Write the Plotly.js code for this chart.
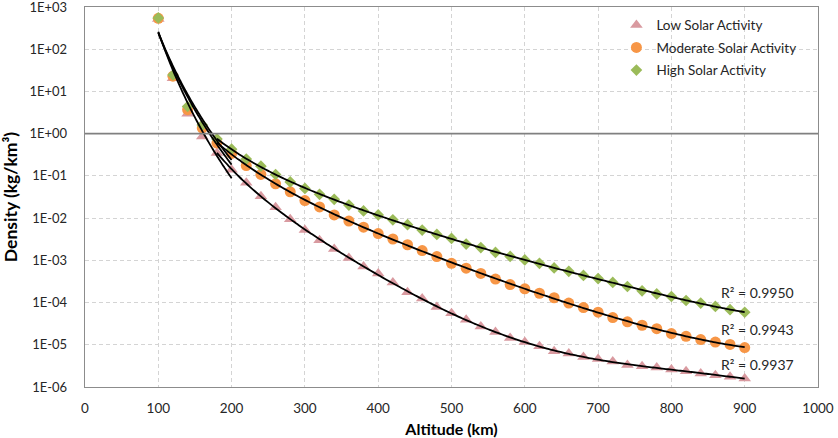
<!DOCTYPE html>
<html>
<head>
<meta charset="utf-8">
<script src="https://cdn.plot.ly/plotly-3.0.1.min.js"></script>
<style>
  html, body { margin: 0; padding: 0; background: #ffffff; }
  #chart { width: 838px; height: 438px; }
</style>
</head>
<body>
<div id="chart"></div>
<script>
// Atmospheric density versus altitude for three levels of solar activity
const altitude = [100, 120, 140, 160, 180, 200, 220, 240, 260, 280, 300, 320, 340, 360, 380,
                  400, 420, 440, 460, 480, 500, 520, 540, 560, 580, 600, 620, 640, 660, 680,
                  700, 720, 740, 760, 780, 800, 820, 840, 860, 880, 900];

const densityLow = [520, 20.5, 2.95, 0.86, 0.35, 0.14, 0.069, 0.033, 0.018, 0.0094,
                    0.0052, 0.0030, 0.00186, 0.00114, 0.00071, 0.00049, 0.00030, 0.000176, 0.000125, 7.8e-5,
                    5.6e-5, 3.9e-5, 2.7e-5, 2.0e-5, 1.45e-5, 1.17e-5, 9.2e-6, 7.0e-6, 6.2e-6, 5.1e-6,
                    4.6e-6, 4.0e-6, 3.3e-6, 3.1e-6, 2.9e-6, 2.6e-6, 2.37e-6, 2.1e-6, 1.9e-6, 1.74e-6, 1.6e-6];

const densityModerate = [540, 23, 3.7, 1.36, 0.60, 0.34, 0.176, 0.108, 0.065, 0.042,
                         0.026, 0.0184, 0.0119, 0.0085, 0.0061, 0.0043, 0.0032, 0.00234, 0.0017, 0.00123,
                         0.00085, 0.00065, 0.00049, 0.00036, 0.000267, 0.000211, 0.000166, 0.00013, 9.7e-5, 7.6e-5,
                         5.9e-5, 4.4e-5, 3.5e-5, 2.9e-5, 2.4e-5, 1.84e-5, 1.59e-5, 1.33e-5, 1.16e-5, 1.02e-5, 8.6e-6];

const densityHigh = [550, 24.5, 4.4, 1.6, 0.75, 0.43, 0.25, 0.17, 0.108, 0.072,
                     0.0506, 0.0366, 0.0278, 0.0204, 0.0148, 0.0119, 0.0091, 0.0070, 0.0052, 0.0041,
                     0.0033, 0.00243, 0.0020, 0.00154, 0.00124, 0.00102, 0.00085, 0.00066, 0.00055, 0.00044,
                     0.00037, 0.00030, 0.00024, 0.00019, 0.00016, 0.000139, 0.000112, 9.7e-5, 8.1e-5, 6.8e-5, 5.9e-5];

const seriesNames = ['Low Solar Activity', 'Moderate Solar Activity', 'High Solar Activity'];
const rSquared = ['0.9937', '0.9943', '0.9950'];

const yTickValues = [1e3, 1e2, 1e1, 1e0, 1e-1, 1e-2, 1e-3, 1e-4, 1e-5, 1e-6];
const yTickLabels = ['1E+03', '1E+02', '1E+01', '1E+00', '1E-01', '1E-02', '1E-03', '1E-04', '1E-05', '1E-06'];
const xTickValues = [0, 100, 200, 300, 400, 500, 600, 700, 800, 900, 1000];

const FONT = 'Lato, "Open Sans", sans-serif';
const TEXT = '#262626';

// ---- least-squares helpers for the trendlines ----
function solve(A, b) {
  const n = b.length;
  const M = A.map((row, i) => row.concat([b[i]]));
  for (let c = 0; c < n; c++) {
    let p = c;
    for (let r = c + 1; r < n; r++) if (Math.abs(M[r][c]) > Math.abs(M[p][c])) p = r;
    [M[c], M[p]] = [M[p], M[c]];
    for (let r = 0; r < n; r++) {
      if (r === c) continue;
      const f = M[r][c] / M[c][c];
      for (let k = c; k <= n; k++) M[r][k] -= f * M[c][k];
    }
  }
  return M.map((row, i) => row[n] / row[i]);
}

function polyfit(xs, ys, deg) {
  const m = deg + 1;
  const A = Array.from({length: m}, () => new Array(m).fill(0));
  const b = new Array(m).fill(0);
  xs.forEach((x, i) => {
    const pw = [];
    for (let k = 0; k < 2 * m; k++) pw.push(Math.pow(x, k));
    for (let r = 0; r < m; r++) {
      b[r] += pw[r] * ys[i];
      for (let c = 0; c < m; c++) A[r][c] += pw[r + c];
    }
  });
  const coef = solve(A, b);
  return x => coef.reduce((s, c, k) => s + c * Math.pow(x, k), 0);
}

// Upper-altitude fit: polynomial in log10(density), drawn from 180 km to 900 km
function upperFit(values) {
  const xs = [], ys = [];
  altitude.forEach((a, i) => { if (a >= 180) { xs.push((a - 540) / 360); ys.push(Math.log10(values[i])); } });
  const f = polyfit(xs, ys, 6);
  const lx = [], ly = [];
  for (let a = 180; a <= 900; a += 5) { lx.push(a); ly.push(Math.pow(10, f((a - 540) / 360))); }
  return {x: lx, y: ly};
}

// Lower-altitude fit: power law over 100 km to 200 km
function lowerFit(values) {
  const xs = [], ys = [];
  altitude.forEach((a, i) => { if (a <= 200) { xs.push(Math.log10(a)); ys.push(Math.log10(values[i])); } });
  const f = polyfit(xs, ys, 1);
  const lx = [], ly = [];
  for (let a = 100; a <= 200; a += 2) { lx.push(a); ly.push(Math.pow(10, f(Math.log10(a)))); }
  return {x: lx, y: ly};
}

const series = [
  {name: seriesNames[0], y: densityLow,      color: '#D99AA0', symbol: 'triangle-up', size: 11},
  {name: seriesNames[1], y: densityModerate, color: '#F79646', symbol: 'circle',      size: 11},
  {name: seriesNames[2], y: densityHigh,     color: '#9BBB59', symbol: 'diamond',     size: 9}
];

const traces = series.map((s, i) => ({
  type: 'scatter', mode: 'markers', name: s.name, x: altitude, y: s.y,
  legendgroup: 'g' + i,
  marker: {symbol: s.symbol, size: s.size, color: s.color, line: {width: 0}}
}));

series.forEach(s => {
  [lowerFit(s.y), upperFit(s.y)].forEach(fit => {
    traces.push({
      type: 'scatter', mode: 'lines', x: fit.x, y: fit.y, showlegend: false, hoverinfo: 'skip',
      line: {color: '#000000', width: 1.8, shape: 'spline'}
    });
  });
});

const rLabelY = [-5.46, -4.63, -3.76];   // log10 positions of the R² labels
const annotations = rSquared.map((r, i) => ({
  x: 918, y: rLabelY[i], xref: 'x', yref: 'y', text: 'R² = ' + r, showarrow: false,
  font: {family: FONT, size: 14, color: TEXT}
}));

const layout = {
  width: 838, height: 438,
  margin: {l: 85, r: 20, t: 7, b: 51},
  paper_bgcolor: '#ffffff', plot_bgcolor: '#ffffff',
  showlegend: true,
  legend: {
    x: 0.725, y: 0.993, xanchor: 'left', yanchor: 'top',
    bgcolor: 'rgba(0,0,0,0)', borderwidth: 0,
    font: {family: FONT, size: 13.5, color: TEXT},
    tracegroupgap: 2, traceorder: 'grouped'
  },
  xaxis: {
    range: [0, 1000], tickvals: xTickValues, ticks: '', ticklabelstandoff: 8,
    showgrid: true, gridcolor: '#D4D4D4', griddash: '4px,3px', gridwidth: 1,
    showline: true, linecolor: '#8C8C8C', linewidth: 1.3, mirror: true, zeroline: false,
    tickfont: {family: FONT, size: 13.5, color: TEXT},
    title: {text: '<b>Altitude (km)</b>', font: {family: FONT, size: 16, color: '#000000'}, standoff: 13}
  },
  yaxis: {
    type: 'log', range: [-6, 3], tickvals: yTickValues, ticktext: yTickLabels, ticks: '', ticklabelstandoff: 14,
    ticklabeloverflow: 'allow',
    showgrid: true, gridcolor: '#D4D4D4', griddash: '4px,3px', gridwidth: 1,
    showline: true, linecolor: '#8C8C8C', linewidth: 1.3, mirror: true, zeroline: false,
    tickfont: {family: FONT, size: 13, color: TEXT},
    title: {text: '<b>Density (kg/km³)</b>', font: {family: FONT, size: 17.5, color: '#000000'}, standoff: 7}
  },
  shapes: [{
    // horizontal axis crossing at a density of 1
    type: 'line', xref: 'paper', yref: 'paper', x0: 0, x1: 1, y0: 2 / 3, y1: 2 / 3,
    line: {color: '#808080', width: 1.6, dash: 'solid'}, layer: 'above'
  }],
  annotations: annotations
};

Plotly.newPlot('chart', traces, layout, {displayModeBar: false, staticPlot: true});
</script>
</body>
</html>
